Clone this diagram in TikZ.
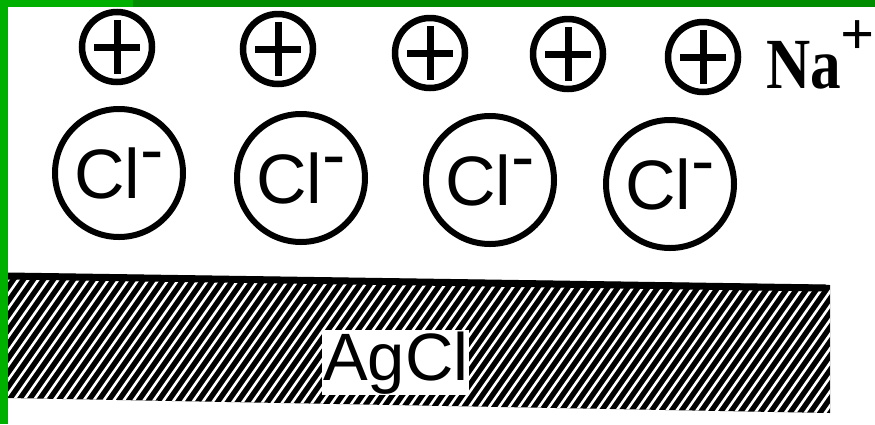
\documentclass[tikz,border=0pt]{standalone}
\usepackage{fontspec}
\setmainfont{Liberation Serif}
\setsansfont{Liberation Sans}
\definecolor{leftgreen}{RGB}{0,176,0}
\definecolor{topgreen}{RGB}{0,140,0}
\tikzset{
  cation/.style={circle, draw, line width=6.5pt, minimum size=70pt, inner sep=0pt,
    path picture={\draw[line width=7pt]
      (path picture bounding box.center) +(-23,0) -- +(23,0)
      +(0,-27) -- +(0,27);}},
  anion/.style={circle, draw, line width=6pt, minimum size=128pt, inner sep=0pt,
    font=\sffamily\fontsize{70}{70}\selectfont},
}
\newcommand{\clion}{Cl\raisebox{25pt}{-}}
\begin{document}
\begin{tikzpicture}[x=1pt, y=-1pt]
  \useasboundingbox (0,0) rectangle (875,424);

  % silver chloride surface, hatched
  \begin{scope}
    \clip (8,273) -- (830,285) -- (830,413) -- (8,398) -- cycle;
    \fill (0,260) rectangle (840,420);
    \foreach \x in {-120,-110,...,840}
      \draw[white, line width=2.6pt] (\x,420) -- ++(110,-157);
  \end{scope}
  \draw[line width=7pt] (8,276) -- (826,288);

  \node[anchor=base west, fill=white, inner sep=1pt,
    font=\sffamily\fontsize{67}{67}\selectfont] (agcl) at (322,380) {AgCl};

  % adsorbed chloride layer
  \node[anion] (cl1) at (119,173) {\clion};
  \node[anion] (cl2) at (301,178) {\clion};
  \node[anion] (cl3) at (490,180) {\clion};
  \node[anion] (cl4) at (670,184) {\clion};

  % counter ions
  \node[cation] (na1) at (117,47) {};
  \node[cation] (na2) at (278,49) {};
  \node[cation] (na3) at (430,53) {};
  \node[cation] (na4) at (568,54) {};
  \node[cation] (na5) at (703,57) {};

  \node[anchor=base west, inner sep=0pt, font=\bfseries\fontsize{72}{72}\selectfont]
    (nalabel) at (766,88) {\scalebox{0.85}[1]{Na}\kern-1pt\raisebox{34pt}{\fontsize{60}{60}\selectfont +}};

  % frame
  \fill[topgreen] (0,0) rectangle (875,7);
  \fill[leftgreen] (0,0) rectangle (133,7);
  \fill[leftgreen] (0,0) rectangle (8,424);
\end{tikzpicture}
\end{document}
